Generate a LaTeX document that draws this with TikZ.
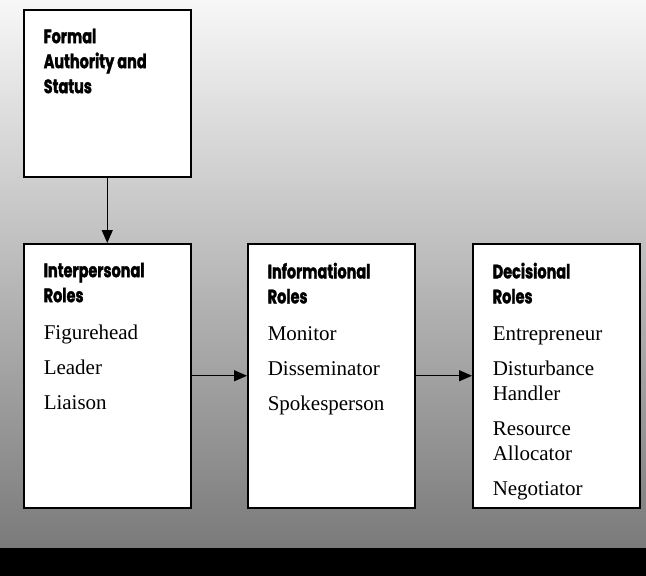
\documentclass[tikz,border=0pt]{standalone}
\usepackage{fontspec}
\setmainfont{Liberation Serif}
\newfontfamily\headfont[FakeStretch=0.74,BoldFeatures={FakeBold=1.6}]{Poppins}
\usetikzlibrary{arrows.meta,shadings}

\tikzset{
  rolebox/.style={draw,line width=1.5pt,fill=white,anchor=north west,
    inner xsep=20pt,inner ysep=19pt,font=\fontsize{21}{25}\selectfont},
  roleflow/.style={line width=1.3pt,-{Triangle[length=13pt,width=11pt]}}
}
\newcommand{\boxtext}[2]{\parbox[t][#1][t]{127pt}{\raggedright #2}}
\newcommand{\rolehead}[1]{{\headfont\bfseries\fontsize{19.5}{25}\selectfont #1}}

\begin{document}
\begin{tikzpicture}[x=1pt,y=-1pt]
  \shade[top color=black!3,middle color=black!19,bottom color=black!52] (0,0) rectangle (646,548);
  \fill[black] (0,548) rectangle (646,576);

  \node[rolebox] (formal) at (23,9) {\boxtext{129pt}{\rolehead{Formal\\Authority and\\Status}}};
  \node[rolebox] (inter) at (23,243) {\boxtext{226pt}{\rolehead{Interpersonal\\Roles}\\[12pt]
    Figurehead\\[10pt] Leader\\[10pt] Liaison}};
  \node[rolebox] (info) at (247,243) {\boxtext{226pt}{\rolehead{Informational\\Roles}\\[12pt]
    Monitor\\[10pt] Disseminator\\[10pt] Spokesperson}};
  \node[rolebox] (deci) at (472,243) {\boxtext{226pt}{\rolehead{Decisional\\Roles}\\[12pt]
    Entrepreneur\\[10pt] Disturbance\\Handler\\[10pt] Resource\\Allocator\\[10pt] Negotiator}};

  \draw[roleflow] (formal) -- (inter);
  \draw[roleflow] (inter) -- (info);
  \draw[roleflow] (info) -- (deci);
\end{tikzpicture}
\end{document}
